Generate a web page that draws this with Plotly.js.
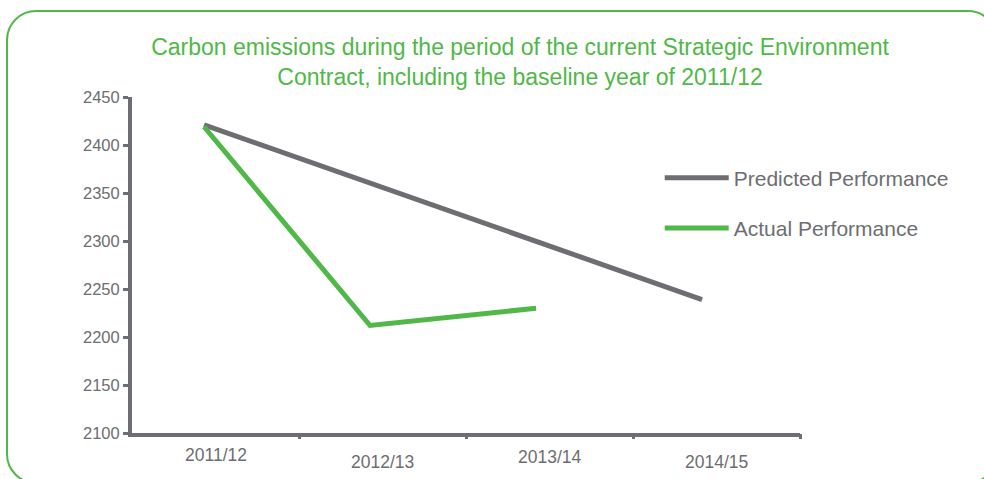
<!DOCTYPE html>
<html>
<head>
<meta charset="utf-8">
<script src="https://cdn.plot.ly/plotly-3.0.1.min.js"></script>
<style>
  html, body { margin: 0; padding: 0; background: #ffffff; }
  #wrap { position: relative; width: 984px; height: 479px; overflow: hidden; }
  #chart { width: 984px; height: 479px; }
  #frame { position: absolute; left: 6px; top: 10px; width: 992px; height: 474px;
           border: 2.5px solid #50b848; border-radius: 30px; box-sizing: border-box; pointer-events: none; }
</style>
</head>
<body>
<div id="wrap">
  <div id="chart"></div>
  <div id="frame"></div>
</div>
<script>
// ---- data ----
const categories = ["2011/12", "2012/13", "2013/14", "2014/15"];
const predicted = [2421, 2360, 2300, 2239];
const actualCategories = ["2011/12", "2012/13", "2013/14"];
const actual = [2419, 2212, 2230];
const yTicks = [2100, 2150, 2200, 2250, 2300, 2350, 2400, 2450];
const seriesNames = ["Predicted Performance", "Actual Performance"];
const titleText = "Carbon emissions during the period of the current Strategic Environment<br>Contract, including the baseline year of 2011/12";

// ---- style ----
const GRAY = "#6d6e71";
const GREEN = "#50b848";
const FONT = "Liberation Sans, Arial, sans-serif";
const labelDrops = [22, 29, 24, 29];

const catIndex = categories.map((c, i) => i);
const boundaries = categories.map((c, i) => i + 0.5);

const traces = [
  { x: categories, y: predicted, type: "scatter", mode: "lines", name: seriesNames[0],
    legendgroup: "a", line: { color: GRAY, width: 5 }, hoverinfo: "x+y" },
  { x: actualCategories, y: actual, type: "scatter", mode: "lines", name: seriesNames[1],
    legendgroup: "b", line: { color: GREEN, width: 5 }, hoverinfo: "x+y" }
];

const annotations = categories.map((c, i) => ({
  x: catIndex[i], xref: "x2", y: 0, yref: "paper", text: c, showarrow: false,
  xanchor: "center", yanchor: "middle", yshift: -labelDrops[i],
  font: { family: FONT, size: 17.5, color: GRAY }
}));

const layout = {
  width: 984, height: 479,
  margin: { l: 132, r: 184, t: 97, b: 46 },
  paper_bgcolor: "#ffffff", plot_bgcolor: "#ffffff",
  title: { text: titleText, x: 520 / 984, xref: "container", xanchor: "center",
           y: 1 - 55 / 479, yref: "container", yanchor: "top",
           font: { family: FONT, size: 23, color: GREEN } },
  xaxis: {
    type: "category", categoryarray: categories, categoryorder: "array",
    range: [-0.434, 3.59], showgrid: false, zeroline: false,
    showline: true, linecolor: GRAY, linewidth: 4,
    ticks: "", showticklabels: false, fixedrange: true
  },
  xaxis2: {
    type: "linear", overlaying: "x", anchor: "y", side: "bottom",
    range: [-0.5, 3.5], tickmode: "array", tickvals: boundaries,
    showgrid: false, zeroline: false, showline: false,
    ticks: "outside", ticklen: 5, tickwidth: 3, tickcolor: GRAY,
    showticklabels: false, fixedrange: true
  },
  yaxis: {
    range: [2100, 2450], tickmode: "array", tickvals: yTicks,
    showgrid: false, zeroline: false,
    showline: true, linecolor: GRAY, linewidth: 4,
    ticks: "outside", ticklen: 5, tickwidth: 3, tickcolor: GRAY,
    tickfont: { family: FONT, size: 16.5, color: GRAY }, ticklabelstandoff: 0,
    fixedrange: true
  },
  showlegend: true,
  legend: {
    x: 0.79, xanchor: "left", y: 0.82, yanchor: "top",
    bgcolor: "rgba(0,0,0,0)", font: { family: FONT, size: 21, color: GRAY },
    itemwidth: 64, tracegroupgap: 20, traceorder: "grouped"
  },
  annotations: annotations
};

Plotly.newPlot("chart", traces, layout, { displayModeBar: false, staticPlot: true });
</script>
</body>
</html>
